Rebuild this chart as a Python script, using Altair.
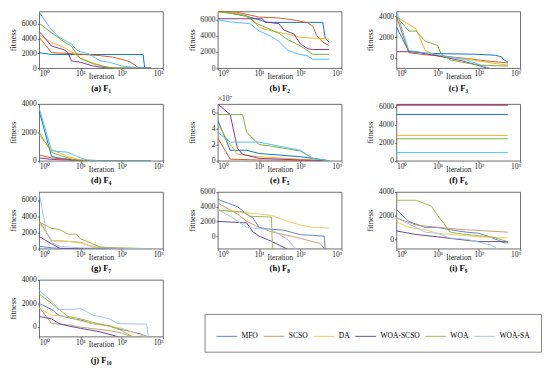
import altair as alt
import pandas as pd

SERIES = ["MFO", "SCSO", "DA", "WOA-SCSO", "WOA", "WOA-SA"]
TOP_COLORS = ["#0072BD", "#D95319", "#EDB120", "#7E2F8E", "#77AC30", "#4DBEEE"]
LOW_COLORS = ["#5f78c8", "#c49a66", "#e3cf5c", "#5e428f", "#a2b443", "#a3c0ef"]
X_TICKS = [1, 10, 100, 1000]
FONT = "Liberation Serif"

# each series: (iterations, best fitness)
F1 = {
    "MFO": ([1, 2, 330, 360, 500], [2100, 1850, 1850, 0, 0]),
    "SCSO": ([1, 2, 5, 10, 30, 60, 100, 150, 200, 260, 500], [4200, 2100, 2000, 1900, 1700, 1500, 1200, 900, 500, 0, 0]),
    "DA": ([1, 2, 4, 7, 10, 20, 40, 70, 500], [4500, 3500, 2800, 2000, 1400, 700, 200, 0, 0]),
    "WOA-SCSO": ([1, 2, 4, 5, 6, 10, 20, 40, 60, 500], [5000, 3000, 2500, 2100, 1000, 800, 300, 50, 0, 0]),
    "WOA": ([1, 2, 4, 6, 8, 10, 20, 40, 60, 500], [6100, 4800, 3600, 3000, 2000, 1300, 600, 200, 0, 0]),
    "WOA-SA": ([1, 2, 3, 6, 8, 10, 15, 20, 30, 50, 100, 200, 450, 500], [7600, 5200, 4200, 3300, 2500, 2200, 2000, 1600, 1000, 800, 300, 100, 0, 0]),
}
F2 = {
    "MFO": ([1, 2, 5, 10, 15, 350, 400, 500], [7000, 6800, 6400, 6000, 5650, 5650, 3700, 3200]),
    "SCSO": ([1, 3, 10, 30, 80, 150, 200, 250, 350, 500], [7000, 6900, 6300, 6200, 5900, 5600, 5200, 4000, 3200, 2800]),
    "DA": ([1, 3, 7, 10, 20, 50, 100, 500], [6900, 6800, 6000, 5000, 4600, 4200, 3800, 3600]),
    "WOA-SCSO": ([1, 12, 14, 30, 40, 70, 100, 150, 200, 500], [6100, 6100, 5700, 5500, 4700, 4200, 3000, 2400, 2300, 2300]),
    "WOA": ([1, 5, 8, 15, 30, 50, 80, 120, 200, 500], [7000, 6500, 5600, 5000, 4300, 3500, 3000, 2500, 1700, 1700]),
    "WOA-SA": ([1, 2, 6, 10, 20, 30, 50, 80, 150, 200, 500], [6000, 5700, 5500, 4600, 3900, 3300, 2200, 1800, 1500, 1100, 1100]),
}
F3 = {
    "MFO": ([1, 2, 5, 15, 80, 250, 350, 400, 500], [3000, 600, 450, 400, 350, 250, 100, -200, -400]),
    "SCSO": ([1, 2, 5, 20, 60, 150, 300, 500], [4000, 500, 300, 100, -100, -300, -400, -500]),
    "DA": ([1, 3, 5, 10, 50, 200, 500], [4000, 2800, 700, 150, -100, -500, -700]),
    "WOA-SCSO": ([1, 3, 5, 10, 40, 200, 500], [600, 600, 400, 200, -300, -1100, -1100]),
    "WOA": ([1, 2, 3, 5, 10, 12, 20, 50, 100, 500], [4000, 2600, 2600, 1600, 1200, 400, -200, -500, -700, -800]),
    "WOA-SA": ([1, 2, 10, 50, 200, 500], [4500, 700, 300, -200, -1100, -1100]),
}
F4 = {
    "MFO": ([1, 2, 3, 5, 10, 500], [3500, 300, 200, 100, 0, 0]),
    "SCSO": ([1, 2, 10, 50, 500], [400, 200, 50, 0, 0]),
    "DA": ([1, 2, 5, 10, 20, 500], [1800, 800, 300, 50, 0, 0]),
    "WOA-SCSO": ([1, 2, 5, 10, 500], [200, 100, 50, 0, 0]),
    "WOA": ([1, 2, 3, 5, 8, 500], [2000, 600, 400, 200, 0, 0]),
    "WOA-SA": ([1, 2, 5, 10, 15, 30, 500], [3700, 700, 600, 200, 50, 0, 0]),
}
F5 = {  # x 10^7
    "MFO": ([1, 2, 5, 10, 100, 200, 500], [5.0, 1.3, 1.3, 0.9, 0.5, 0.3, 0]),
    "SCSO": ([1, 2, 10, 500], [2.8, 0.2, 0.1, 0]),
    "DA": ([1, 2, 3, 10, 100, 500], [4.5, 2.0, 0.8, 0.5, 0.2, 0]),
    "WOA-SCSO": ([1, 2, 3, 4, 10, 100, 500], [7.0, 5.7, 1.5, 0.8, 0.3, 0.1, 0]),
    "WOA": ([1, 4, 5, 10, 20, 100, 200, 500], [5.7, 5.7, 3.5, 2.0, 1.8, 1.2, 0.3, 0]),
    "WOA-SA": ([1, 2, 10, 20, 100, 200, 500], [3.5, 2.3, 2.3, 2.0, 1.3, 0.3, 0]),
}
F6 = {
    "MFO": ([1, 500], [5150, 5150]),
    "SCSO": ([1, 500], [6200, 6200]),
    "DA": ([1, 500], [2820, 2820]),
    "WOA-SCSO": ([1, 500], [6200, 6200]),
    "WOA": ([1, 500], [2440, 2440]),
    "WOA-SA": ([1, 500], [910, 910]),
}
F7 = {
    "MFO": ([1, 2, 3, 10, 500], [300, 100, 50, 0, 0]),
    "SCSO": ([1, 2, 5, 10, 20, 50, 500], [3400, 1000, 900, 800, 200, 100, 0]),
    "DA": ([1, 2, 5, 10, 20, 50, 500], [3200, 1000, 900, 700, 300, 100, 0]),
    "WOA-SCSO": ([1, 2, 3.3, 500], [1500, 600, 0, 0]),
    "WOA": ([1, 2, 3, 5, 8, 10, 20, 30, 100, 500], [3300, 2500, 2400, 1800, 1800, 1200, 600, 200, 50, 0]),
    "WOA-SA": ([1, 1.5, 2, 3, 10, 500], [6800, 2000, 800, 300, 100, 0]),
}
F8 = {
    "MFO": ([1, 3, 5, 7, 10, 15, 40, 100, 200, 380, 400, 500], [5000, 4000, 3000, 2500, 1200, 1000, 800, 200, 100, 0, -1800, -1800]),
    "SCSO": ([1, 3, 5, 10, 20, 50, 100, 300, 400, 500], [4500, 3000, 2000, 1200, 600, 100, -300, -1000, -1800, -1800]),
    "DA": ([1, 3, 10, 20, 50, 100, 200, 500], [3600, 3300, 3000, 2800, 2000, 1500, 1200, 1100]),
    "WOA-SCSO": ([1, 5, 7, 10, 20, 50, 500], [2000, 1800, 600, 0, -700, -1800, -1800]),
    "WOA": ([1, 4, 6, 20, 21, 500], [3500, 3300, 2700, 2600, -1800, -1800]),
    "WOA-SA": ([1, 2, 5, 10, 20, 50, 80, 500], [3600, 2700, 1200, 1000, 900, -500, -1800, -1800]),
}
F9 = {
    "MFO": ([1, 2, 5, 10, 20, 50, 100, 150, 300, 400, 500], [2500, 1500, 1000, 1000, 800, 600, 500, 300, -100, -300, -300]),
    "SCSO": ([1, 3, 10, 50, 500], [1800, 1200, 1000, 800, 600]),
    "DA": ([1, 2, 5, 10, 50, 100, 500], [1500, 1000, 800, 500, 300, 200, 100]),
    "WOA-SCSO": ([1, 3, 10, 30, 100, 500], [700, 400, 200, 0, -200, -200]),
    "WOA": ([1, 3, 5, 7, 10, 15, 20, 30, 50, 100, 200, 500], [3300, 3300, 3000, 2800, 2000, 1200, 600, 500, 400, 300, 200, -200]),
    "WOA-SA": ([1, 3, 5, 10, 20, 50, 200, 300, 500], [1800, 1000, 600, 500, 100, 0, -500, -900, -900]),
}
F10 = {
    "MFO": ([1, 2, 3, 5, 10, 20, 50, 100, 300, 500], [2000, 1500, 1000, 800, 600, 300, 100, -200, -600, -900]),
    "SCSO": ([1, 2, 5, 10, 50, 100, 200, 500], [1700, 300, 200, 0, -300, -500, -900, -900]),
    "DA": ([1, 2, 5, 10, 30, 100, 300, 500], [1600, 1000, 900, 500, 200, -100, -700, -900]),
    "WOA-SCSO": ([1, 2, 3, 5, 10, 30, 100, 500], [900, 700, 300, 100, -100, -400, -900, -900]),
    "WOA": ([1, 2, 3, 5, 10, 20, 50, 100, 200, 500], [2800, 2000, 1500, 900, 700, 400, 100, -300, -900, -900]),
    "WOA-SA": ([1, 2, 3, 7, 10, 20, 30, 50, 80, 400, 450, 500], [3100, 2200, 1500, 1500, 1600, 1000, 900, 700, 300, 250, -900, -900]),
}

LABEL_EXPR = ("datum.value == 1 ? '10\u2070' : datum.value == 10 ? '10\u00b9' : "
              "datum.value == 100 ? '10\u00b2' : '10\u00b3'")


def to_frame(data):
    rows = []
    for s in SERIES:
        xs, ys = data[s]
        for x, y in zip(xs, ys):
            rows.append({"series": s, "iter": x, "fit": y})
    return pd.DataFrame(rows)


def panel(caption, data, ydom, yticks, colors, legend=None, exponent=None):
    lines = alt.Chart(to_frame(data)).mark_line(strokeWidth=1, clip=True).encode(
        x=alt.X("iter:Q",
                scale=alt.Scale(type="log", domain=[1, 1000], nice=False),
                axis=alt.Axis(values=X_TICKS, labelExpr=LABEL_EXPR, title="Iteration",
                              titlePadding=-5, titleFontSize=8, labelPadding=0,
                              tickSize=2, domain=False)),
        y=alt.Y("fit:Q",
                scale=alt.Scale(domain=ydom, nice=False, zero=False),
                axis=alt.Axis(values=yticks, format="d", title="fitness", titlePadding=2,
                              labelPadding=1, tickSize=2, domain=False,
                              minExtent=21, maxExtent=21)),
        color=alt.Color("series:N", scale=alt.Scale(domain=SERIES, range=colors),
                        legend=legend),
    )
    layers = [lines]
    if exponent:
        note = alt.Chart(pd.DataFrame({"t": [exponent]})).mark_text(
            align="left", baseline="bottom", font=FONT, fontSize=8, color="#262626"
        ).encode(text="t:N", x=alt.value(0), y=alt.value(-1))
        layers.append(note)
    return alt.layer(*layers).properties(
        width=131, height=60,
        title=alt.TitleParams(caption, orient="bottom", font=FONT, fontSize=9,
                              fontWeight="bold", offset=4, color="#000000"),
    )


LEGEND = alt.Legend(orient="none", legendX=175, legendY=36, direction="horizontal",
                    columns=6, title=None, strokeColor="#7f7f7f", fillColor="#ffffff",
                    padding=12, symbolType="stroke", symbolSize=484, symbolStrokeWidth=1,
                    labelFont=FONT, labelFontSize=8, labelOffset=4, columnPadding=3,
                    labelColor="#000000")

pa = panel("(a) F\u2081", F1, [0, 7700], [0, 2000, 4000, 6000], TOP_COLORS)
pb = panel("(b) F\u2082", F2, [0, 7000], [0, 2000, 4000, 6000], TOP_COLORS)
pc = panel("(c) F\u2083", F3, [-1000, 4500], [0, 2000, 4000], TOP_COLORS)
pd_ = panel("(d) F\u2084", F4, [0, 4000], [0, 2000, 4000], TOP_COLORS)
pe = panel("(e) F\u2085", F5, [0, 7], [0, 2, 4, 6], TOP_COLORS, exponent="\u00d710\u2077")
pf = panel("(f) F\u2086", F6, [0, 6300], [0, 2000, 4000, 6000], TOP_COLORS)
pg = panel("(g) F\u2087", F7, [0, 7000], [0, 2000, 4000, 6000], LOW_COLORS)
ph = panel("(h) F\u2088", F8, [-1700, 6000], [0, 2000, 4000, 6000], LOW_COLORS)
pi = panel("(i) F\u2089", F9, [-800, 4000], [0, 2000, 4000], LOW_COLORS)
pj = panel("(j) F\u2081\u2080", F10, [-800, 4000], [0, 2000, 4000], LOW_COLORS, legend=LEGEND)

IND = dict(x="independent", y="independent", color="independent")


def row(*charts):
    return alt.hconcat(*charts, spacing=24).resolve_scale(**IND)


chart = alt.vconcat(
    row(pa, pb, pc), row(pd_, pe, pf), row(pg, ph, pi), row(pj), spacing=1
).resolve_scale(**IND).properties(
    padding={"left": 0, "top": -8, "right": 0, "bottom": 0},
    background="#ffffff",
).configure_view(
    stroke="#404040", strokeWidth=0.8
).configure_axis(
    labelFont=FONT, titleFont=FONT, labelFontSize=8, titleFontSize=9,
    titleFontWeight="normal", labelColor="#262626", titleColor="#262626",
    tickColor="#404040", tickWidth=0.8, grid=False
)

chart.save("out.html", embed_options={"renderer": "svg", "actions": False})
